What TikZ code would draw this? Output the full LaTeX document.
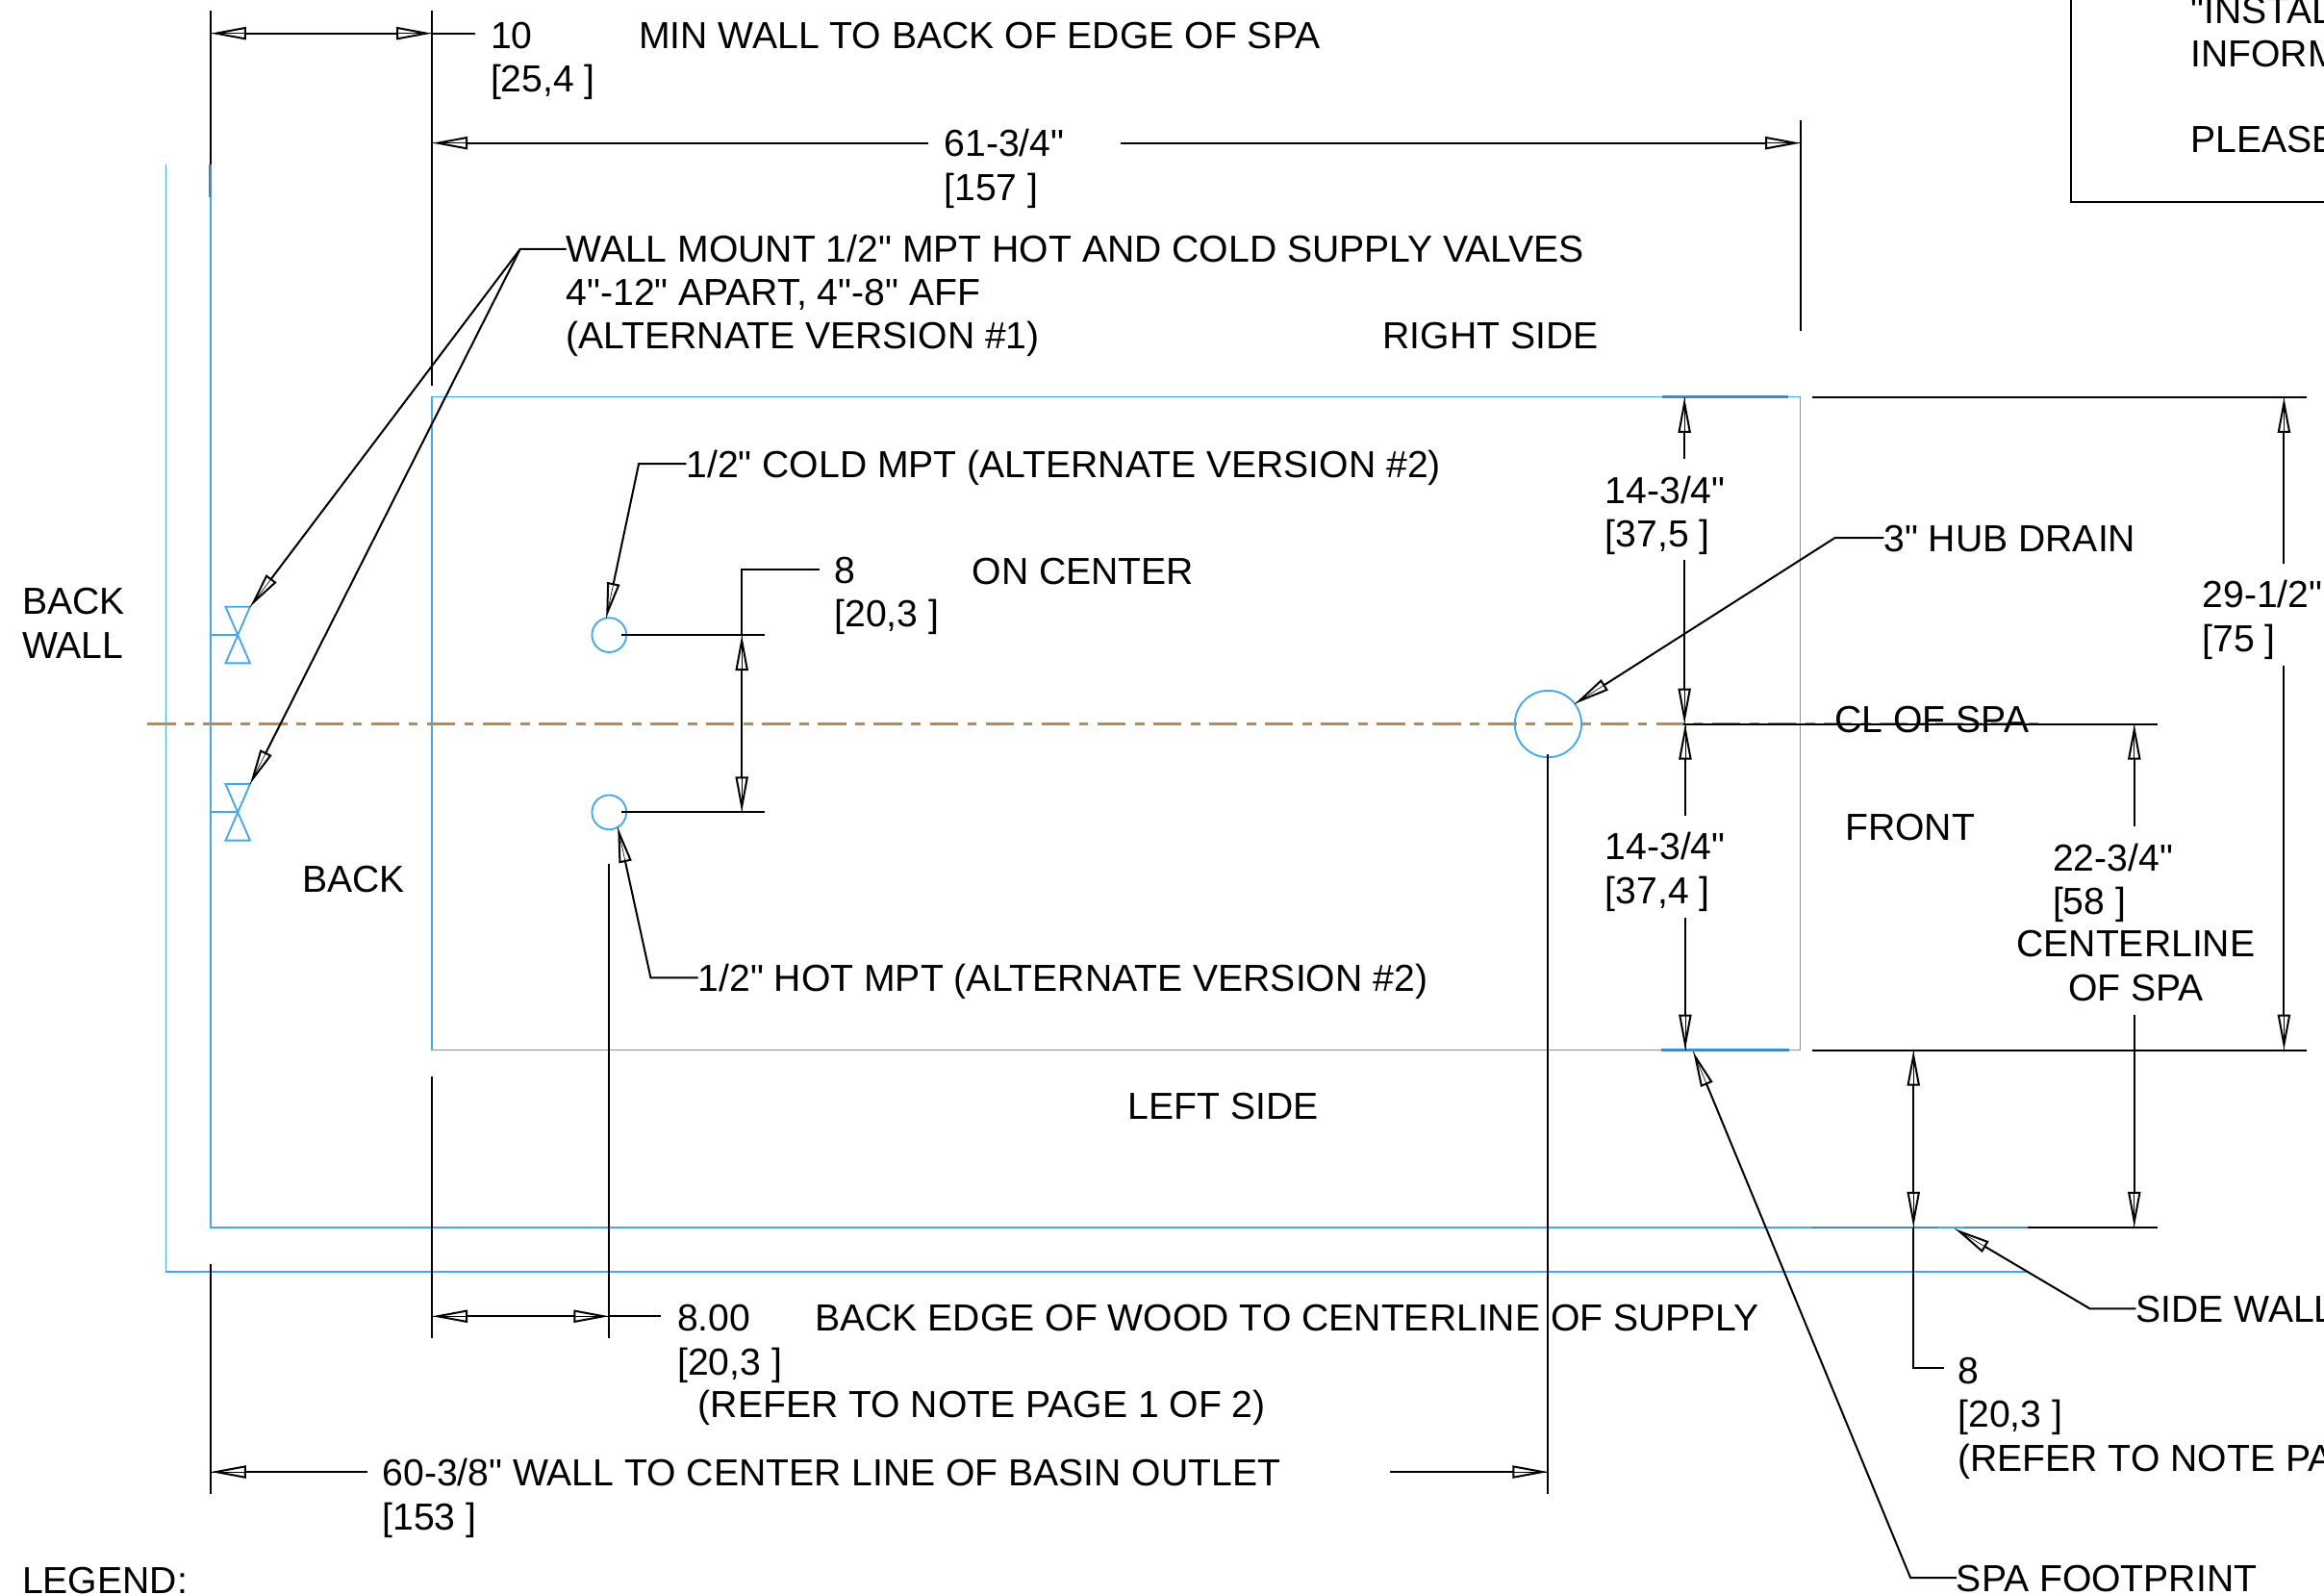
\documentclass[tikz,border=0pt]{standalone}
\usepackage{fontspec}
\setmainfont{Liberation Sans}[Ligatures=TeXOff]
\usetikzlibrary{arrows.meta}
\definecolor{planblue}{HTML}{3FA9F5}
\definecolor{overblue}{HTML}{3E8BCB}
\definecolor{cldash}{HTML}{BC8A4E}
\tikzset{
    lbl/.style={anchor=base west,inner sep=0pt,outer sep=0pt,align=left,font=\fontsize{25.4}{29.4}\selectfont},
    leadlbl/.style={lbl,text height=18.3pt,text depth=0pt},
    ext/.style={line width=1.3pt,black},
    plan/.style={line width=1.2pt,planblue},
    overlap/.style={line width=1.7pt,overblue},
    dim/.style={ext,>={Triangle[open,length=24pt,width=8.5pt]},preaction={draw,arrows=-}},
    port/.style={circle,draw=planblue,line width=1.2pt,inner sep=0pt,outer sep=0pt}
}
\begin{document}
\begin{tikzpicture}[x=1pt,y=-1pt]
            \useasboundingbox (0,0) rectangle (1568,1076);
            \clip (0,0) rectangle (1568,1076);
            \draw[plan] (112,111) -- (112,858) -- (1368,858);
            \draw[plan] (142,111) -- (142,828) -- (1368,828);
            \draw[plan] (291.5,267.7) rectangle (1214.6,708.4);
            \draw[dash pattern=on 19pt off 6.3pt on 6.3pt off 6.1pt,line width=1.6pt,cldash] (99.5,488.4) -- (1376,488.4);
            \foreach \valvey in {428.4,548} {
                \draw[plan] (142,\valvey) -- (160.4,\valvey);
                \draw[plan] (152.2,\valvey-19) -- (168.7,\valvey-19) -- (152.2,\valvey+19) -- (168.7,\valvey+19) -- cycle;
            }
            \coordinate (valvea) at (168.7,409.4);
            \coordinate (valveb) at (168.7,529);
            \node[port,minimum size=23.2pt] (coldport) at (411,428.4) {};
            \node[port,minimum size=23.2pt] (hotport) at (411,548) {};
            \node[port,minimum size=45pt] (drain) at (1044.5,488.4) {};

            \draw[ext] (142,7) -- (142,111);
            \draw[overlap] (142,111) -- (142,133);
            \draw[ext] (291.5,7) -- (291.5,260);
            \draw[ext] (291.5,726) -- (291.5,903);
            \draw[ext] (142,853) -- (142,1008);
            \draw[ext] (411,582.5) -- (411,903);
            \draw[ext] (1044.5,509) -- (1044.5,1008);
            \draw[ext] (1215,81) -- (1215,223);
            \draw[ext] (1222.5,268) -- (1556,268);
            \draw[ext] (1222.5,708.5) -- (1556,708.5);
            \draw[overlap] (1121.5,267.7) -- (1206.6,267.7);
            \draw[overlap] (1121,708.4) -- (1207,708.4);
            \draw[ext] (1136,488.4) -- (1455.5,488.4);
            \draw[overlap] (1222.7,828) -- (1307,828);
            \draw[overlap] (1326,828) -- (1368,828);
            \draw[ext] (1368,828) -- (1455.5,828);
            \draw[ext] (419,428.4) -- (516,428.4);
            \draw[ext] (419,548) -- (516,548);

            \draw[dim,<->] (142,22.5) -- (291.5,22.5);
            \draw[ext] (291.5,22.5) -- (320.5,22.5);
            \draw[dim,->] (626,96.5) -- (291.5,96.5);
            \draw[dim,->] (756,96.5) -- (1215,96.5);
            \draw[dim,<->] (500.5,428.4) -- (500.5,548);
            \draw[ext] (500.5,428.4) -- (500.5,384) -- (553,384);
            \draw[dim,<->] (291.5,888) -- (411,888);
            \draw[ext] (411,888) -- (446,888);
            \draw[dim,->] (248,993) -- (142,993);
            \draw[dim,->] (938,993) -- (1044.5,993);
            \draw[dim,->] (1136.5,309.5) -- (1136.5,268);
            \draw[dim,->] (1136.5,378) -- (1136.5,488.4);
            \draw[dim,->] (1137,550.5) -- (1137,488.4);
            \draw[dim,->] (1137,619) -- (1137,708.4);
            \draw[dim,->] (1541,380.5) -- (1541,268);
            \draw[dim,->] (1541,449) -- (1541,708.5);
            \draw[dim,->] (1440,557.5) -- (1440,488.4);
            \draw[dim,->] (1440,684.5) -- (1440,828);
            \draw[dim,<->] (1291,708.5) -- (1291,828);
            \draw[ext] (1291,828) -- (1291,923) -- (1311.5,923);

            \node[lbl] (wallgap) at (331,62) {10\\{}[25,4 ]};
            \node[lbl] (wallnote) at (431,32.5) {MIN WALL TO BACK OF EDGE OF SPA};
            \node[lbl] (widthdim) at (637,135) {61-3/4"\\{}[157 ]};
            \node[lbl] (wallmount) at (382,235.5) {WALL MOUNT 1/2" MPT HOT AND COLD SUPPLY VALVES\\4"-12" APART, 4"-8" AFF\\(ALTERNATE VERSION \#1)};
            \node[lbl] (rightside) at (933,235) {RIGHT SIDE};
            \node[leadlbl] (coldnote) at (463,322) {1/2" COLD MPT (ALTERNATE VERSION \#2)};
            \node[lbl] (upperdim) at (1083,369) {14-3/4"\\{}[37,5 ]};
            \node[leadlbl] (hubdrain) at (1271,372) {3" HUB DRAIN};
            \node[lbl] (depthdim) at (1486,439.5) {29-1/2"\\{}[75 ]};
            \node[lbl] (backwall) at (15,444) {BACK\\WALL};
            \node[lbl] (centerdim) at (563,423) {8\\{}[20,3 ]};
            \node[lbl] (oncenter) at (656,394) {ON CENTER};
            \node[lbl] (clspa) at (1238,494) {CL OF SPA};
            \node[lbl] (front) at (1245,567) {FRONT};
            \node[lbl] (back) at (204,602) {BACK};
            \node[lbl] (lowerdim) at (1083,609.5) {14-3/4"\\{}[37,4 ]};
            \node[lbl] (sidedim) at (1385,617) {22-3/4"\\{}[58 ]};
            \node[lbl,align=center,anchor=base] (centerline) at (1441,675) {CENTERLINE\\OF SPA};
            \node[leadlbl] (hotnote) at (471,668.7) {1/2" HOT MPT (ALTERNATE VERSION \#2)};
            \node[lbl] (leftside) at (761,755) {LEFT SIDE};
            \node[lbl] (supplydim) at (457,927.5) {8.00\\{}[20,3 ]};
            \node[lbl] (woodnote) at (550,898) {BACK EDGE OF WOOD TO CENTERLINE OF SUPPLY};
            \node[lbl] (refernote) at (471,956.5) {(REFER TO NOTE PAGE 1 OF 2)};
            \node[lbl] (outletdim) at (258,1032) {60-3/8" WALL TO CENTER LINE OF BASIN OUTLET\\{}[153 ]};
            \node[lbl] (legend) at (15,1075) {LEGEND:};
            \node[leadlbl] (sidewall) at (1441,892) {SIDE WALL};
            \node[lbl] (frontdim) at (1321,992.5) {8\\{}[20,3 ]\\(REFER TO NOTE PA};
            \node[leadlbl] (footprint) at (1320,1073.6) {SPA FOOTPRINT};
            \node[lbl] (installnote) at (1478,15.6) {"INSTAL};
            \node[lbl] (informnote) at (1478,44.8) {INFORM};
            \node[lbl] (pleasenote) at (1478,103) {PLEASE};
            \draw[ext] (1397,0) -- (1397,136) -- (1568,136);

            \draw[dim,->] (382,168) -- (351,168) -- (valvea);
            \draw[dim,->] (351,168) -- (valveb);
            \draw[dim,->] (coldnote.west) -- (431,0 |- coldnote.west) -- (coldport.100);
            \draw[dim,->] (hotnote.west) -- (439,0 |- hotnote.west) -- (hotport.-60);
            \draw[dim,->] (hubdrain.west) -- (1238,0 |- hubdrain.west) -- (drain.37);
            \draw[dim,->] (footprint.west) -- (1289,0 |- footprint.west) -- (1142.4,709.5);
            \draw[dim,->] (sidewall.west) -- (1410,0 |- sidewall.west) -- (1319,829);
        \end{tikzpicture}
\end{document}
